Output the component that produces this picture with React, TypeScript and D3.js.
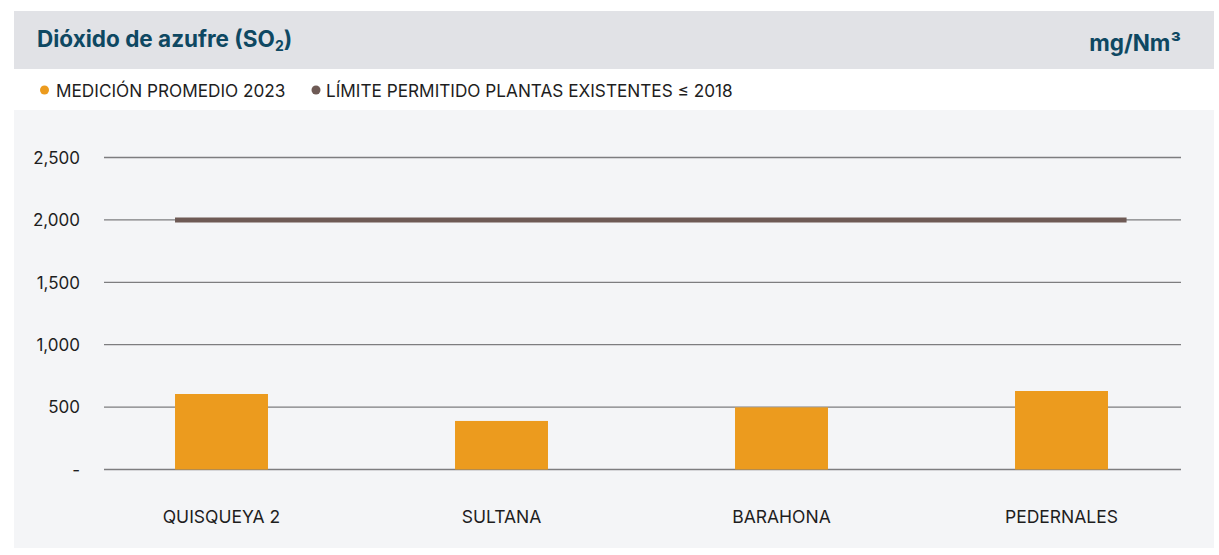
import React from "react";
import * as d3 from "d3";

const categories = ["QUISQUEYA 2", "SULTANA", "BARAHONA", "PEDERNALES"];
const medicion2023 = [605, 389, 498, 629];
const limitePermitido = [2000, 2000, 2000, 2000];
const yTicks = [0, 500, 1000, 1500, 2000, 2500];
const legendLabels = ["MEDICIÓN PROMEDIO 2023", "LÍMITE PERMITIDO PLANTAS EXISTENTES ≤ 2018"];

const W = 1219;
const H = 555;
const FONT = "Inter, sans-serif";

export default function App() {
  const x = d3.scaleBand<string>().domain(categories).range([81.5, 1201.5]).paddingInner(0.668).paddingOuter(0.334);
  const y = d3.scaleLinear().domain([0, 2500]).range([469.5, 157.5]);
  const fmt = (v: number) => (v === 0 ? "-" : d3.format(",")(v));
  const bw = x.bandwidth();
  const last = categories.length - 1;
  const lineGen = d3
    .line<number>()
    .x((_, i) => (i === 0 ? (x(categories[0]) as number) : i === last ? (x(categories[i]) as number) + bw * 1.2 : (x(categories[i]) as number) + bw / 2))
    .y((d) => y(d));

  return (
    <svg width={W} height={H} style={{ position: "absolute", left: 0, top: 0 }}>
      <rect x={0} y={0} width={W} height={H} fill="#ffffff" />
      <rect x={14} y={11} width={1200} height={58} fill="#e1e2e6" />
      <text x={37} y={47} fontFamily={FONT} fontWeight={700} fontSize={22.5} fill="#0e4862">
        Dióxido de azufre (SO<tspan fontSize={14} dy={4}>2</tspan>
        <tspan dy={-4}>)</tspan>
      </text>
      <text x={1181} y={50.5} textAnchor="end" fontFamily={FONT} fontWeight={700} fontSize={22.5} fill="#0e4862">
        mg/Nm³
      </text>
      {/* legend */}
      <circle cx={44.5} cy={90} r={4.5} fill="#ec9b1e" />
      <text x={56} y={96.5} fontFamily={FONT} fontSize={17.2} fill="#1e1e1e">
        {legendLabels[0]}
      </text>
      <circle cx={316} cy={90} r={4.5} fill="#6e5a55" />
      <text x={326} y={96.5} fontFamily={FONT} fontSize={17.2} fill="#1e1e1e">
        {legendLabels[1]}
      </text>
      <rect x={14} y={110} width={1200} height={438} fill="#f4f5f7" />
      {yTicks.map((t) => (
        <g key={t}>
          <line x1={104} x2={1181} y1={y(t)} y2={y(t)} stroke="#7d7d7f" strokeWidth={1.3} />
          <text x={80} y={y(t) + 6.3} textAnchor="end" fontFamily={FONT} fontSize={17} fill="#1e1e1e">
            {fmt(t)}
          </text>
        </g>
      ))}
      {categories.map((c, i) => (
        <g key={c}>
          <rect x={x(c)} y={y(medicion2023[i])} width={bw} height={y(0) - y(medicion2023[i])} fill="#ec9b1e" />
          <text x={(x(c) as number) + bw / 2} y={523.3} textAnchor="middle" fontFamily={FONT} fontSize={17.5} fill="#1e1e1e">
            {c}
          </text>
        </g>
      ))}
      <path d={lineGen(limitePermitido) || ""} stroke="#6e5a55" strokeWidth={5} fill="none" />
    </svg>
  );
}
